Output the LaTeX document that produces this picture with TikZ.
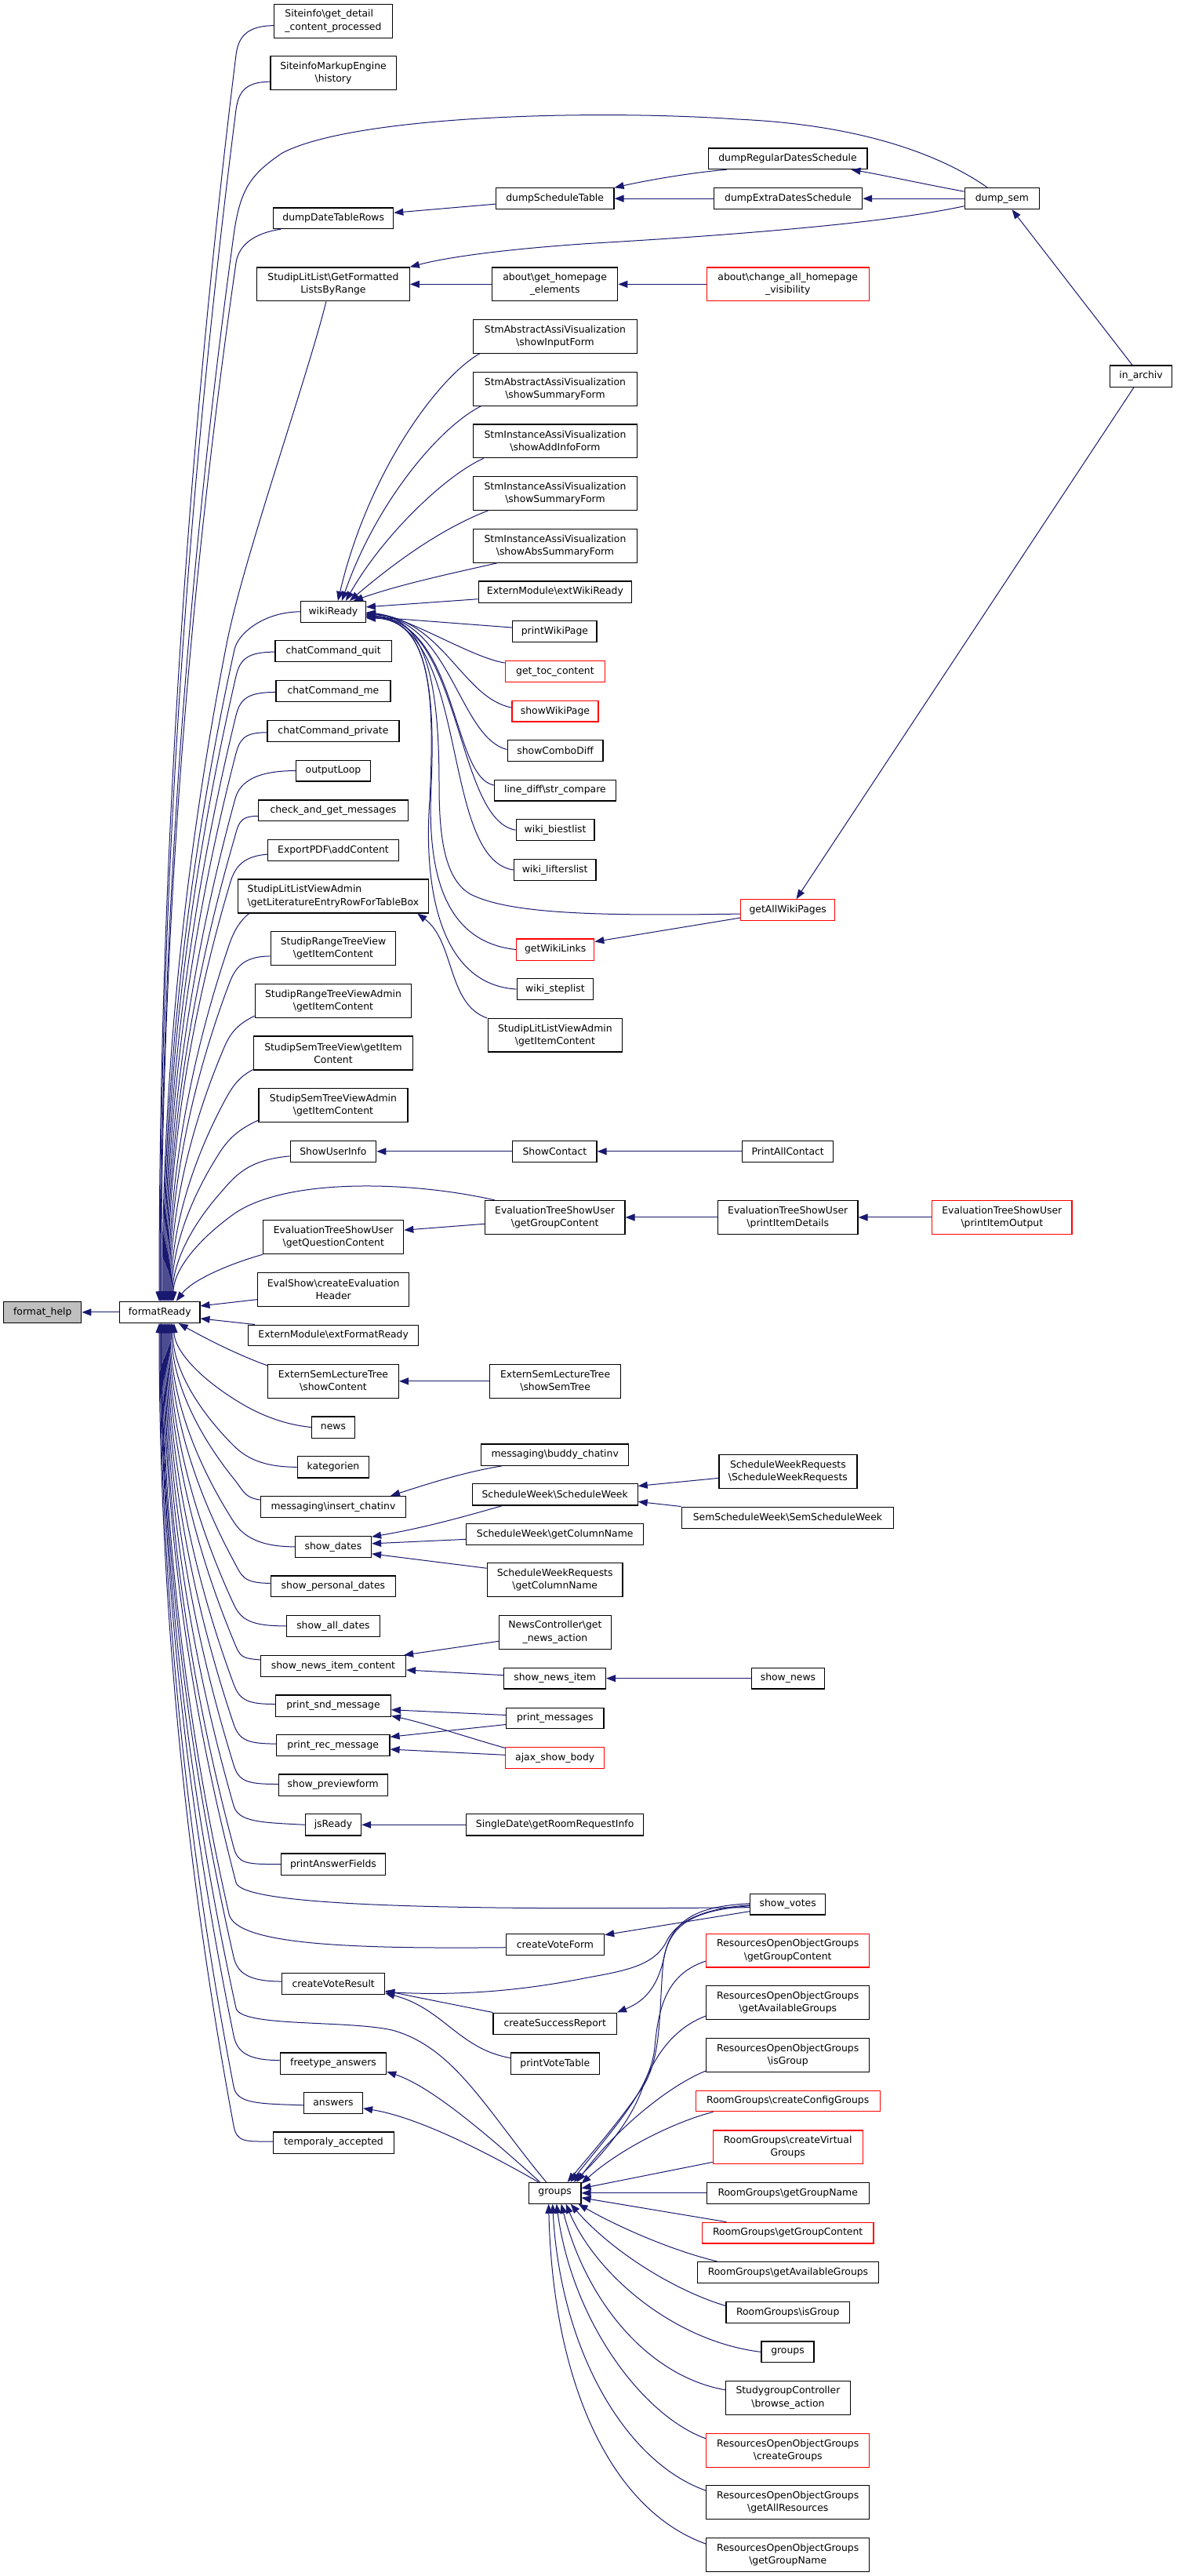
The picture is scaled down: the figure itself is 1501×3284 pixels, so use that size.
\documentclass[tikz,border=0pt]{standalone}
\usepackage{fontspec}
\newfontfamily\dvs{DejaVu Sans}
\usetikzlibrary{arrows.meta}
\definecolor{mblue}{RGB}{25,25,112}
\definecolor{fhgray}{RGB}{191,191,191}
\definecolor{nred}{RGB}{255,0,0}
\newcommand\bsl{\textbackslash}
\newcommand\mybox[7][]{%
 \pgfmathsetmacro\bxcx{((#3)+(#5))/2}%
 \pgfmathsetmacro\bxcy{((#4)+(#6))/2}%
 \pgfmathsetmacro\bxw{(#5)-(#3)}%
 \pgfmathsetmacro\bxh{(#6)-(#4)}%
 \node[nbox,#1,minimum width=\bxw pt,minimum height=\bxh pt] (#2) at (\bxcx,\bxcy) {#7};}
\newcommand\bzcalc[5]{% #1 Jx, #2 Jy, #3 handle, #4 Ex, #5 Ey
 \pgfmathsetmacro\bzqy{((#2)+(#5))/2}%
 \pgfmathsetmacro\bzvx{(#4)-(#1)}%
 \pgfmathsetmacro\bzvy{\bzqy-(#2)}%
 \pgfmathsetmacro\bzvl{100*veclen((\bzvx)/100,(\bzvy)/100)}%
 \pgfmathsetmacro\bzux{(\bzvx)/(\bzvl)}%
 \pgfmathsetmacro\bzuy{(\bzvy)/(\bzvl)}%
 \pgfmathsetmacro\bzhx{-(#3)*(\bzux)}%
 \pgfmathsetmacro\bzhy{-(#3)*(\bzuy)}%
 \pgfmathsetmacro\bzax{(#1)+2/3*(\bzvx)}%
 \pgfmathsetmacro\bzay{(#2)+2/3*(\bzvy)}%
 \pgfmathsetmacro\bzby{(#5)+2/3*(\bzqy-(#5))}%
 \pgfmathsetmacro\bzes{(#4)-203.75}}
\newcommand\upe[7]{%
 \bzcalc{#4}{#5}{#6}{#7}{1659.3}%
 \draw[conn] (#1) .. controls +(#2,#3) and +(\bzhx,\bzhy) .. (#4,#5) .. controls (\bzax,\bzay) and (#7,\bzby) .. ([xshift=\bzes pt]fr.north);}
\newcommand\loe[7]{%
 \bzcalc{#4}{#5}{#6}{#7}{1686.5}%
 \draw[conn] (#1) .. controls +(#2,#3) and +(\bzhx,\bzhy) .. (#4,#5) .. controls (\bzax,\bzay) and (#7,\bzby) .. ([xshift=\bzes pt]fr.south);}
\begin{document}
\begin{tikzpicture}[x=1pt,y=-1pt,
 nbox/.style={draw=black,line width=1.2pt,fill=white,inner xsep=1pt,inner ysep=1pt,align=center,text=black,font={\dvs\fontsize{12.4pt}{16.2pt}\selectfont}},
 conn/.style={draw=mblue,line width=1pt,-{Triangle[length=12pt,width=9pt]}}]
\fill[white] (0,0) rectangle (1501,3284);
\useasboundingbox (0,0) rectangle (1501,3284);
% column 0/1
\mybox[fill=fhgray]{fh}{4.8}{1659.3}{103.8}{1686.5}{format\_help}
\mybox{fr}{152.6}{1659.3}{254.9}{1686.5}{formatReady}
% column 2
\mybox[align=left]{sit1}{349.6}{5.2}{500.3}{48.2}{Siteinfo\bsl{}get\_detail\\\_content\_processed}
\mybox{sit2}{344.9}{71.7}{505.1}{114.7}{SiteinfoMarkupEngine\\\bsl{}history}
\mybox{ddtr}{348.7}{264.9}{501.7}{291.6}{dumpDateTableRows}
\mybox{sllg}{327.6}{340.9}{522.3}{383.8}{StudipLitList\bsl{}GetFormatted\\ListsByRange}
\mybox{wr}{383.6}{766.5}{466.3}{793.2}{wikiReady}
\mybox{ccq}{351}{816.8}{499.3}{843.5}{chatCommand\_quit}
\mybox{ccm}{352}{867.6}{497.9}{894.3}{chatCommand\_me}
\mybox{ccp}{341}{918.4}{508.9}{945.1}{chatCommand\_private}
\mybox{ol}{377.4}{969.2}{472.6}{995.9}{outputLoop}
\mybox{cagm}{329.5}{1020}{520.4}{1046.7}{check\_and\_get\_messages}
\mybox{epdf}{341.5}{1070.8}{508.4}{1097.5}{ExportPDF\bsl{}addContent}
\mybox[align=left]{sllva}{303.2}{1121}{546.7}{1164}{StudipLitListViewAdmin\\\bsl{}getLiteratureEntryRowForTableBox}
\mybox{srtv}{345.3}{1187.5}{504.6}{1230.4}{StudipRangeTreeView\\\bsl{}getItemContent}
\mybox{srtva}{325.2}{1254.5}{524.7}{1297.5}{StudipRangeTreeViewAdmin\\\bsl{}getItemContent}
\mybox{sstv}{323.3}{1321}{526.6}{1364}{StudipSemTreeView\bsl{}getItem\\Content}
\mybox{sstva}{330}{1387.5}{519.9}{1430.5}{StudipSemTreeViewAdmin\\\bsl{}getItemContent}
\mybox{sui}{370.2}{1454.5}{479.7}{1481.2}{ShowUserInfo}
\mybox{etqc}{335.8}{1555.6}{514.7}{1598.6}{EvaluationTreeShowUser\\\bsl{}getQuestionContent}
\mybox{esh}{328.6}{1622.6}{521.8}{1665.5}{EvalShow\bsl{}createEvaluation\\Header}
\mybox{emfr}{316.6}{1689.1}{533.8}{1715.8}{ExternModule\bsl{}extFormatReady}
\mybox{eslt}{341.5}{1739.4}{508.4}{1782.3}{ExternSemLectureTree\\\bsl{}showContent}
\mybox{news}{397.5}{1805.9}{452.5}{1833.1}{news}
\mybox{kat}{379.3}{1856.7}{470.7}{1883.9}{kategorien}
\mybox{mic}{332.4}{1907.5}{517.5}{1934.7}{messaging\bsl{}insert\_chatinv}
\mybox{sd}{376.4}{1958.2}{473.5}{1985.5}{show\_dates}
\mybox{spd}{345.3}{2009}{504.6}{2035.7}{show\_personal\_dates}
\mybox{sad}{365.4}{2059.3}{484.5}{2086.5}{show\_all\_dates}
\mybox{snic}{332.4}{2110.6}{517.5}{2137.3}{show\_news\_item\_content}
\mybox{psm}{351.6}{2160.9}{498.4}{2188.1}{print\_snd\_message}
\mybox{prm}{352.5}{2211.7}{497}{2238.4}{print\_rec\_message}
\mybox{spf}{355.4}{2261.9}{494.1}{2289.1}{show\_previewform}
\mybox{jsr}{389.3}{2312.7}{460.6}{2339.9}{jsReady}
\mybox{paf}{358.7}{2363}{491.2}{2390.2}{printAnswerFields}
\mybox{cvr}{359.7}{2515.4}{490.7}{2542.6}{createVoteResult}
\mybox{fta}{357.3}{2616.9}{492.7}{2644.2}{freetype\_answers}
\mybox{ans}{387.4}{2667.2}{462.5}{2694.4}{answers}
\mybox{tac}{348.7}{2718}{502.2}{2745.2}{temporaly\_accepted}
% column 3
\mybox{dst}{632.3}{239.8}{783}{266.5}{dumpScheduleTable}
\mybox{agh}{627.5}{340.9}{787.8}{383.8}{about\bsl{}get\_homepage\\\_elements}
\mybox{stm1}{603.2}{407.4}{812.7}{450.3}{StmAbstractAssiVisualization\\\bsl{}showInputForm}
\mybox{stm2}{603.2}{474.4}{812.7}{517.3}{StmAbstractAssiVisualization\\\bsl{}showSummaryForm}
\mybox{stm3}{603.2}{540.9}{812.7}{583.8}{StmInstanceAssiVisualization\\\bsl{}showAddInfoForm}
\mybox{stm4}{603.2}{607.4}{812.7}{650.3}{StmInstanceAssiVisualization\\\bsl{}showSummaryForm}
\mybox{stm5}{603.2}{674.4}{812.7}{717.3}{StmInstanceAssiVisualization\\\bsl{}showAbsSummaryForm}
\mybox{emwr}{610.3}{740.9}{805.5}{768.1}{ExternModule\bsl{}extWikiReady}
\mybox{pwp}{653.8}{791.7}{761}{818.4}{printWikiPage}
\mybox[draw=nred]{gtc}{644.3}{842.5}{771.5}{869.7}{get\_toc\_content}
\mybox[draw=nred]{swp}{652.9}{893.3}{763}{920}{showWikiPage}
\mybox{scd}{647.2}{943.5}{769}{970.7}{showComboDiff}
\mybox{ldsc}{630.4}{994.3}{785.4}{1021}{line\_diff\bsl{}str\_compare}
\mybox{wbl}{658.2}{1044.6}{758}{1071.8}{wiki\_biestlist}
\mybox{wll}{655.3}{1095.4}{760}{1122.6}{wiki\_lifterslist}
\mybox[draw=nred]{gwl}{658.6}{1196.9}{757.7}{1224.2}{getWikiLinks}
\mybox{wsl}{659.1}{1247.7}{756.7}{1274.4}{wiki\_steplist}
\mybox{sllgi}{622.3}{1298.5}{793.5}{1340.9}{StudipLitListViewAdmin\\\bsl{}getItemContent}
\mybox{sc}{653.8}{1454.5}{761}{1481.2}{ShowContact}
\mybox{etgc}{618.5}{1530.5}{796.9}{1573.4}{EvaluationTreeShowUser\\\bsl{}getGroupContent}
\mybox{esst}{624.7}{1739.4}{791.6}{1782.3}{ExternSemLectureTree\\\bsl{}showSemTree}
\mybox{mbc}{613.7}{1841}{801.7}{1868.2}{messaging\bsl{}buddy\_chatinv}
\mybox{swsw}{602.2}{1891.8}{813.1}{1919}{ScheduleWeek\bsl{}ScheduleWeek}
\mybox{swgc}{594.5}{1942.5}{820.8}{1969.2}{ScheduleWeek\bsl{}getColumnName}
\mybox{swrgc}{621.3}{1992.8}{794}{2035.7}{ScheduleWeekRequests\\\bsl{}getColumnName}
\mybox{ncgn}{636.6}{2059.3}{779.2}{2102.2}{NewsController\bsl{}get\\\_news\_action}
\mybox{sni}{642.8}{2126.3}{772.5}{2153}{show\_news\_item}
\mybox{pm}{645.7}{2177.1}{770}{2203.8}{print\_messages}
\mybox[draw=nred]{asb}{644.8}{2227.4}{770.6}{2254.6}{ajax\_show\_body}
\mybox{sdgr}{594.5}{2312.7}{820.8}{2339.9}{SingleDate\bsl{}getRoomRequestInfo}
\mybox{cvf}{645.2}{2465.1}{770.6}{2492.3}{createVoteForm}
\mybox{csr}{629}{2566.1}{786.4}{2593.4}{createSuccessReport}
\mybox{pvt}{651.4}{2616.9}{764.3}{2644.2}{printVoteTable}
\mybox{grp3}{674.4}{2782.4}{740.9}{2809.1}{groups}
% column 4
\mybox{drds}{903.1}{189}{1105.9}{215.7}{dumpRegularDatesSchedule}
\mybox{deds}{910.2}{239.8}{1099.6}{266.5}{dumpExtraDatesSchedule}
\mybox[draw=nred]{acah}{901.1}{340.9}{1108.3}{383.8}{about\bsl{}change\_all\_homepage\\\_visibility}
\mybox[draw=nred]{gawp}{944.7}{1146.7}{1064.7}{1173.4}{getAllWikiPages}
\mybox{pac}{946.6}{1454.5}{1062.8}{1481.2}{PrintAllContact}
\mybox{etpd}{915.5}{1530.5}{1093.9}{1573.4}{EvaluationTreeShowUser\\\bsl{}printItemDetails}
\mybox{swrsw}{916.9}{1854.6}{1092.9}{1897.5}{ScheduleWeekRequests\\\bsl{}ScheduleWeekRequests}
\mybox{ssw}{869.1}{1921.1}{1139.8}{1948.3}{SemScheduleWeek\bsl{}SemScheduleWeek}
\mybox{sn}{958.1}{2126.3}{1051.8}{2153}{show\_news}
\mybox{sv}{956.6}{2414.3}{1052.8}{2441}{show\_votes}
\mybox[draw=nred]{roog1}{900.7}{2465.1}{1108.7}{2508}{ResourcesOpenObjectGroups\\\bsl{}getGroupContent}
\mybox{roog2}{900.7}{2531.6}{1108.7}{2574.5}{ResourcesOpenObjectGroups\\\bsl{}getAvailableGroups}
\mybox{roog3}{900.7}{2598.6}{1108.7}{2641.5}{ResourcesOpenObjectGroups\\\bsl{}isGroup}
\mybox[draw=nred]{rgccg}{887.3}{2665.1}{1122.1}{2691.8}{RoomGroups\bsl{}createConfigGroups}
\mybox[draw=nred]{rgcvg}{909.3}{2715.9}{1100.1}{2758.8}{RoomGroups\bsl{}createVirtual\\Groups}
\mybox{rggn}{901.1}{2782.4}{1108.3}{2809.1}{RoomGroups\bsl{}getGroupName}
\mybox[draw=nred]{rggc}{895.4}{2833.2}{1114}{2859.9}{RoomGroups\bsl{}getGroupContent}
\mybox{rgga}{889.2}{2883.4}{1120.7}{2910.7}{RoomGroups\bsl{}getAvailableGroups}
\mybox{rgig}{926}{2934.2}{1083.4}{2961.5}{RoomGroups\bsl{}isGroup}
\mybox{grp4}{971}{2985}{1038}{3011.7}{groups}
\mybox{sgc}{925.5}{3035.3}{1084.3}{3078.2}{StudygroupController\\\bsl{}browse\_action}
\mybox[draw=nred]{roog4}{900.7}{3102.3}{1108.7}{3145.2}{ResourcesOpenObjectGroups\\\bsl{}createGroups}
\mybox{roog5}{900.7}{3168.8}{1108.7}{3211.8}{ResourcesOpenObjectGroups\\\bsl{}getAllResources}
\mybox{roog6}{900.7}{3235.3}{1108.7}{3278.2}{ResourcesOpenObjectGroups\\\bsl{}getGroupName}
% column 5/6
\mybox{ds}{1230.2}{239.8}{1325.4}{266.5}{dump\_sem}
\mybox[draw=nred]{etpo}{1188.6}{1530.5}{1367}{1573.4}{EvaluationTreeShowUser\\\bsl{}printItemOutput}
\mybox{ina}{1415.8}{466}{1494.2}{493.2}{in\_archiv}
% ---------- edges into formatReady
\draw[conn] (fr.west) -- (fh.east);
\draw[conn] ([xshift=-18.4pt]ds.north) .. controls (1215,208) and (1120,160) .. (940,152) .. controls (750,139) and (450,148) .. (360,195) .. controls (320,222) and (306.1,240.6) .. (298,300) .. controls (236,753.1) and (205,1206.2) .. ([xshift=1.25pt]fr.north);
\upe{[yshift=-6pt]sit1.west}{-35}{0}{301}{70}{22}{203}
\upe{[yshift=-11pt]sit2.west}{-32}{0}{301}{140}{22}{204}
\upe{[xshift=10pt]ddtr.south west}{-35}{5}{301}{335}{22}{205.5}
\upe{[xshift=-9pt]sllg.south}{-25}{100}{289}{821}{110}{207}
\upe{wr.west}{-45}{0}{299}{828}{22}{208}
\upe{[yshift=-1pt]ccq.west}{-35}{0}{301}{862}{22}{209}
\upe{[yshift=-1.5pt]ccm.west}{-35}{0}{301}{912}{22}{210}
\upe{[yshift=-2pt]ccp.west}{-30}{0}{300}{964}{22}{211}
\upe{ol.west}{-50}{0}{300}{1018}{22}{212}
\upe{[yshift=-7pt]cagm.west}{-25}{0}{298}{1072}{22}{213}
\upe{[yshift=-5pt]epdf.west}{-28}{2}{294}{1124}{22}{214}
\upe{[xshift=15pt]sllva.south west}{-10}{8}{292}{1205}{22}{215}
\upe{[yshift=-10pt]srtv.west}{-40}{0}{290}{1260}{22}{216}
\upe{[yshift=3pt]srtva.south west}{-20}{10}{286}{1335}{22}{217}
\upe{[yshift=1pt]sstv.south west}{-20}{10}{284}{1408}{22}{218}
\upe{[yshift=3pt]sstva.south west}{-22}{10}{281}{1468}{22}{219}
\upe{[yshift=-6pt]sui.west}{-55}{5}{280}{1522}{30}{220}
\upe{[xshift=13pt]etgc.north west}{-110}{-25}{296.6}{1548.8}{80}{221}
\draw[conn] (etqc.south west) .. controls (290,1612) and (245,1632) .. ([xshift=21pt]fr.north);
\draw[conn] ([yshift=-12.6pt]esh.west) -- ([yshift=8pt]fr.east);
\draw[conn] ([xshift=9pt]emfr.north west) -- ([yshift=-8pt]fr.east);
\draw[conn] ([yshift=-2pt]eslt.north west) .. controls (300,1726) and (262,1706) .. ([xshift=24pt]fr.south);
\loe{news.west}{-50}{-5}{290}{1778}{25}{222}
\loe{kat.west}{-45}{0}{297}{1842}{22}{220}
\loe{[yshift=9pt]mic.west}{-20}{-3}{298}{1885}{22}{218.5}
\loe{sd.west}{-45}{0}{298}{1940}{22}{217}
\loe{[yshift=4pt]spd.west}{-35}{0}{298}{1990}{22}{216}
\loe{sad.west}{-45}{0}{298}{2045}{22}{215}
\loe{[yshift=8pt]snic.west}{-25}{-2}{298}{2092}{22}{214}
\loe{[yshift=2pt]psm.west}{-35}{0}{298}{2147}{22}{213}
\loe{[yshift=2pt]prm.west}{-35}{0}{298}{2198}{22}{212}
\loe{[yshift=1pt]spf.west}{-40}{0}{298}{2250}{22}{211}
\loe{jsr.west}{-55}{-3}{298}{2302}{22}{210}
\loe{paf.west}{-45}{0}{298}{2355}{22}{209}
\loe{[yshift=-4pt]sv.west}{-400}{4}{301}{2400}{30}{208}
\loe{[yshift=-4pt]cvf.west}{-200}{2}{292}{2440}{40}{207}
\loe{[yshift=3pt]cvr.west}{-40}{0}{298}{2495}{22}{206}
\draw[conn] ([xshift=-11pt]grp3.north) .. controls (620,2690) and (580,2610) .. (500,2588) .. controls (440,2575) and (306.3,2584.4) .. (301,2560) .. controls (237.3,2268.8) and (205.5,1977.7) .. ([xshift=1.75pt]fr.south);
\loe{[yshift=4pt]fta.west}{-40}{0}{298}{2595}{22}{205}
\loe{[yshift=-3pt]ans.west}{-60}{-2}{298}{2660}{22}{204}
\loe{[yshift=1.6pt]tac.west}{-35}{0}{298}{2710}{22}{203}
% ---------- top area
\draw[conn] ([yshift=-7pt]dst.west) -- ([yshift=7pt]ddtr.east);
\draw[conn] ([xshift=24pt]drds.south west) .. controls (880,220) and (820,231) .. (dst.north east);
\draw[conn] (deds.west) -- (dst.east);
\draw[conn] ([yshift=9pt]ds.west) .. controls (1180,235) and (1120,222) .. ([xshift=-21pt]drds.south east);
\draw[conn] (ds.west) -- (deds.east);
\draw[conn] ([yshift=-9.6pt]ds.west) .. controls (1150,280) and (1000,296) .. (750,310.5) .. controls (640,318) and (570,328) .. (sllg.north east);
\draw[conn] (agh.west) -- (sllg.east);
\draw[conn] (acah.west) -- (agh.east);
\draw[conn] ([xshift=-11pt]ina.north) -- ([xshift=12.7pt]ds.south);
\draw[conn] ([xshift=-9pt]ina.south) -- ([xshift=10.8pt]gawp.north);
% ---------- wikiReady
\draw[conn] ([xshift=9pt]stm1.south west) .. controls (560,480) and (470,600) .. ([xshift=6pt]wr.north);
\draw[conn] ([xshift=10.5pt]stm2.south west) .. controls (560,545) and (480,640) .. ([xshift=11pt]wr.north);
\draw[conn] ([xshift=14pt]stm3.south west) .. controls (570,605) and (490,680) .. ([xshift=16pt]wr.north);
\draw[conn] ([xshift=20pt]stm4.south west) .. controls (560,675) and (500,720) .. ([xshift=21pt]wr.north);
\draw[conn] ([xshift=31pt]stm5.south west) .. controls (580,730) and (510,745) .. ([xshift=26pt]wr.north);
\draw[conn] ([yshift=-9.2pt]emwr.west) -- ([yshift=6pt]wr.east);
\draw[conn] ([yshift=5pt]pwp.west) -- ([yshift=-6pt]wr.east);
\draw[conn] ([yshift=11pt]gtc.west) .. controls (600,838) and (520,786) .. ([yshift=-1pt]wr.east);
\draw[conn] ([yshift=4.6pt]swp.west) .. controls (590,890) and (565,790) .. ([yshift=-2pt]wr.east);
\draw[conn] ([yshift=1.6pt]scd.west) .. controls (585,940) and (575,790) .. ([yshift=-3pt]wr.east);
\draw[conn] ([yshift=6.6pt]ldsc.west) .. controls (575,990) and (585,795) .. ([yshift=-4pt]wr.east);
\draw[conn] (wbl.west) .. controls (580,1045) and (590,790) .. ([yshift=-5pt]wr.east);
\draw[conn] (wll.west) .. controls (560,1095) and (600,795) .. ([yshift=-6pt]wr.east);
\draw[conn] ([yshift=-5pt]gawp.west) .. controls (760,1168) and (650,1165) .. (600,1140) .. controls (565,1120) and (560,1060) .. (560,1000) .. controls (560,860) and (540,786) .. ([yshift=-3pt]wr.east);
\draw[conn] (gwl.west) .. controls (560,1200) and (545,1100) .. (550,1000) .. controls (555,880) and (545,788) .. ([yshift=-7pt]wr.east);
\draw[conn] (wsl.west) .. controls (560,1255) and (540,1130) .. (548,1020) .. controls (555,880) and (548,790) .. ([yshift=-8pt]wr.east);
\draw[conn] ([yshift=-10pt]gawp.west) -- ([yshift=10pt]gwl.east);
\draw[conn] ([xshift=-0.5pt]sllgi.north west) .. controls (570,1280) and (580,1200) .. ([xshift=-15pt]sllva.south east);
% ---------- middle
\draw[conn] (sc.west) -- (sui.east);
\draw[conn] (pac.west) -- (sc.east);
\draw[conn] ([yshift=-8.3pt]etgc.west) -- ([yshift=8.9pt]etqc.east);
\draw[conn] (etpd.west) -- (etgc.east);
\draw[conn] (etpo.west) -- (etpd.east);
\draw[conn] (esst.west) -- (eslt.east);
\draw[conn] ([xshift=27.3pt]mbc.south west) .. controls (590,1877) and (545,1892) .. ([xshift=-20pt]mic.north east);
\draw[conn] ([xshift=38.8pt]swsw.south west) .. controls (590,1934) and (540,1948) .. ([yshift=-1.5pt]sd.north east);
\draw[conn] ([yshift=-6.5pt]swgc.west) -- ([yshift=4pt]sd.east);
\draw[conn] ([yshift=15pt]swrgc.west) -- ([yshift=-9pt]sd.east);
\draw[conn] ([yshift=-8.3pt]swrsw.west) -- ([yshift=11pt]swsw.east);
\draw[conn] (ssw.north west) -- ([yshift=-9pt]swsw.east);
\draw[conn] ([yshift=-11.5pt]ncgn.west) -- ([xshift=-3pt]snic.north east);
\draw[conn] ([yshift=4pt]sni.west) -- ([yshift=-5pt]snic.east);
\draw[conn] (sn.west) -- (sni.east);
\draw[conn] ([yshift=4pt]pm.west) -- ([yshift=-5.2pt]psm.east);
\draw[conn] ([yshift=12.6pt]asb.west) .. controls (600,2216) and (540,2196) .. ([yshift=-13pt]psm.east);
\draw[conn] ([yshift=-8pt]pm.west) -- ([yshift=10.8pt]prm.east);
\draw[conn] ([yshift=3.7pt]asb.west) -- ([yshift=-5pt]prm.east);
\draw[conn] (sdgr.west) -- (jsr.east);
% ---------- votes
\draw[conn] ([yshift=-9pt]sv.west) -- ([yshift=12pt]cvf.east);
\draw[conn] ([yshift=-1pt]sv.west) .. controls (895,2433) and (862,2450) .. (850,2475) .. controls (835,2505) and (800,2512) .. (750,2521) .. controls (680,2535) and (600,2545) .. ([yshift=-10.5pt]cvr.east);
\draw[conn] ([yshift=-2pt]sv.west) .. controls (890,2435) and (858,2450) .. (848,2490) .. controls (840,2530) and (825,2550) .. (csr.north east);
\draw[conn] ([yshift=1pt]sv.west) .. controls (900,2430) and (855,2440) .. (846,2500) .. controls (840,2560) and (845,2620) .. (820,2660) .. controls (790,2705) and (750,2750) .. ([xshift=16pt]grp3.north);
\draw[conn] (csr.north west) -- ([yshift=-9pt]cvr.east);
\draw[conn] ([yshift=7pt]pvt.west) .. controls (585,2612) and (565,2560) .. ([yshift=-12pt]cvr.east);
\draw[conn] ([xshift=-19pt]grp3.north) .. controls (620,2720) and (550,2660) .. ([yshift=-10.5pt]fta.east);
\draw[conn] ([xshift=-21pt]grp3.north) .. controls (640,2755) and (540,2700) .. ([yshift=-7pt]ans.east);
% ---------- groups
\draw[conn] ([yshift=-13.5pt]roog1.west) .. controls (855,2515) and (840,2550) .. (835,2610) .. controls (830,2660) and (790,2705) .. ([xshift=20pt]grp3.north);
\draw[conn] ([yshift=-17pt]roog2.west) .. controls (860,2585) and (835,2620) .. (820,2660) .. controls (805,2705) and (765,2750) .. ([xshift=24pt]grp3.north);
\draw[conn] ([yshift=-20pt]roog3.west) .. controls (850,2660) and (780,2720) .. ([xshift=28pt]grp3.north);
\draw[conn] ([xshift=22.7pt]rgccg.south west) .. controls (860,2705) and (790,2740) .. ([yshift=-2pt]grp3.north east);
\draw[conn] ([yshift=3pt]rgcvg.south west) -- ([yshift=6pt]grp3.east);
\draw[conn] (rggn.west) -- (grp3.east);
\draw[conn] ([xshift=31.6pt]rggc.north west) -- ([yshift=-6pt]grp3.east);
\draw[conn] ([xshift=25.8pt]rgga.north west) .. controls (860,2870) and (790,2840) .. ([xshift=-4pt]grp3.south east);
\draw[conn] ([yshift=8.3pt]rgig.west) .. controls (860,2920) and (780,2870) .. ([xshift=20pt]grp3.south);
\draw[conn] (grp4.west) .. controls (860,2985) and (760,2900) .. ([xshift=14pt]grp3.south);
\draw[conn] ([yshift=10pt]sgc.west) .. controls (830,3030) and (750,2940) .. ([xshift=8pt]grp3.south);
\draw[conn] ([yshift=15pt]roog4.west) .. controls (820,3080) and (730,2960) .. ([xshift=2pt]grp3.south);
\draw[conn] ([yshift=15.3pt]roog5.west) .. controls (800,3140) and (715,3000) .. ([xshift=-3pt]grp3.south);
\draw[conn] ([yshift=13.75pt]roog6.west) .. controls (780,3200) and (705,3040) .. ([xshift=-8pt]grp3.south);
\end{tikzpicture}
\end{document}
